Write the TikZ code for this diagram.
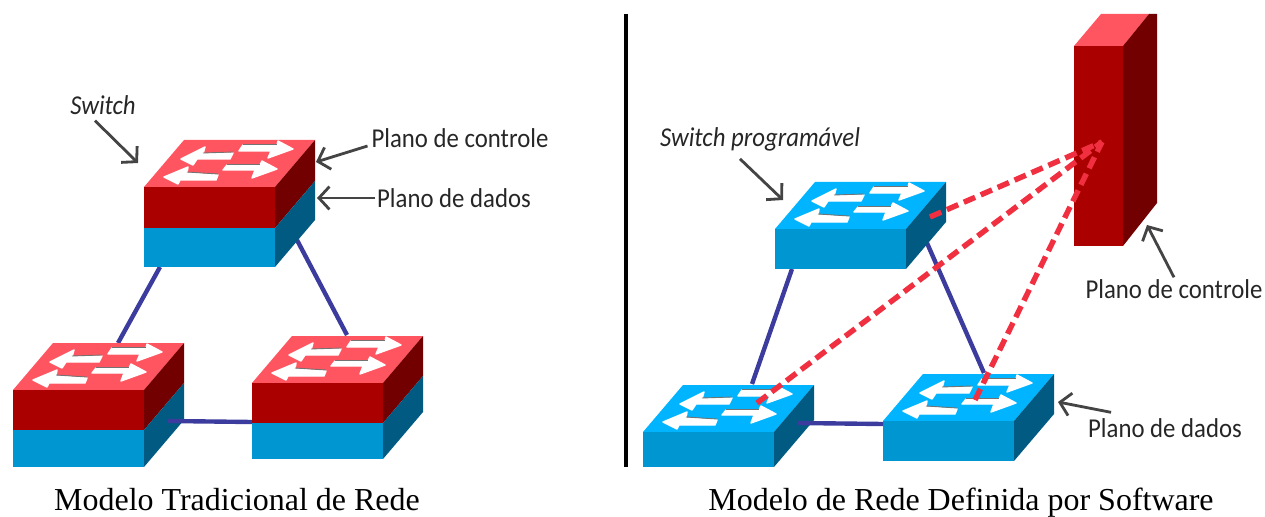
\documentclass[tikz,border=0pt]{standalone}
\usepackage{fontspec}
\setmainfont{Liberation Serif}
\newfontfamily\labelfont[FakeStretch=0.91]{Carlito}
\usetikzlibrary{arrows.meta}

\definecolor{redtop}{HTML}{FF5560}
\definecolor{redfront}{HTML}{AA0000}
\definecolor{redside}{HTML}{730000}
\definecolor{bluetop}{HTML}{00B4FF}
\definecolor{bluefront}{HTML}{0096D2}
\definecolor{blueside}{HTML}{005A82}
\definecolor{linkblue}{HTML}{3C3C9E}
\definecolor{dashred}{HTML}{F03040}
\definecolor{calloutgray}{HTML}{444444}

% front face and side face of one layer: x, y, height, front colour, side colour
\newcommand{\swlayer}[5]{
  \fill[#4] (#1,#2) rectangle ++(131,#3);
  \fill[#5] (#1+131,#2) -- ++(40,-47) -- ++(0,#3) -- ++(-40,47) -- cycle;
}
% top face with its four arrows: x, y, colour
\newcommand{\swtop}[3]{
  \fill[#3] (#1,#2) -- ++(40,-47) -- ++(131,0) -- ++(-40,47) -- cycle;
  \begin{scope}[shift={(#1,#2)}]
    \fill[swarrow] (37,-28) -- (61,-40) -- (59,-33) -- (89,-34) -- (86,-28) -- (53,-28) -- (49,-22) -- cycle;
    \fill[swarrow] (149,-38) -- (134,-46) -- (133,-42) -- (99,-42) -- (95,-36) -- (127,-36) -- (124,-29) -- cycle;
    \fill[swarrow] (20,-10) -- (44,-20) -- (43,-14) -- (74,-12) -- (72,-7) -- (36,-7) -- (34,-3) -- cycle;
    \fill[swarrow] (133,-18) -- (118,-26) -- (116,-22) -- (83,-22) -- (79,-17) -- (111,-17) -- (108,-9) -- cycle;
    \draw[swedge] (59,-34) -- (89,-35);
    \draw[swedge] (133,-43) -- (99,-43);
    \draw[swedge] (43,-15) -- (74,-13);
    \draw[swedge] (116,-23) -- (83,-23);
  \end{scope}
}

\begin{document}
\begin{tikzpicture}[
    x=0.02cm,y=-0.02cm,
    swarrow/.style={white,draw=white,line width=0.8pt,line join=round},
    swedge/.style={black!55,line width=0.5pt},
    link/.style={linkblue,line width=2.5pt},
    control/.style={dashred,line width=3.1pt,dash pattern=on 7pt off 3.5pt},
    callout/.style={calloutgray,line width=1.6pt,-{Straight Barb[length=6pt,width=13pt]}},
    label/.style={font=\labelfont\fontsize{15.5}{18}\selectfont,text=black!85,inner sep=1pt},
    italiclabel/.style={label,font=\labelfont\itshape\fontsize{15.5}{18}\selectfont},
    caption/.style={font=\fontsize{18.2}{20}\selectfont,inner sep=0pt,anchor=base}
]
\useasboundingbox (0,0) rectangle (1265,517);

% Link ends, left side
\coordinate (TA) at (160,267);
\coordinate (LA) at (118,343);
\coordinate (TB) at (297,240);
\coordinate (RB) at (347,335);
\coordinate (LC) at (168,421);
\coordinate (RC) at (252,422);

% Link ends, right side
\coordinate (PTA) at (792,269);
\coordinate (PLA) at (752,384);
\coordinate (PTB) at (927,243);
\coordinate (PRB) at (984,373);
\coordinate (PLC) at (798,423);
\coordinate (PRC) at (883,424);

% Links under the switches
\draw[link] (TA) -- (LA);
\draw[link] (TB) -- (RB);
\draw[link] (PTA) -- (PLA);
\draw[link] (PTB) -- (PRB);

% Traditional switches
\swtop{144}{187}{redtop}
\swlayer{144}{187}{41}{redfront}{redside}
\swlayer{144}{228}{39}{bluefront}{blueside}

\swtop{13}{390}{redtop}
\swlayer{13}{390}{40}{redfront}{redside}
\swlayer{13}{430}{37}{bluefront}{blueside}

\swtop{252}{383}{redtop}
\swlayer{252}{383}{40}{redfront}{redside}
\swlayer{252}{423}{36}{bluefront}{blueside}

% Programmable switches
\swtop{775}{229}{bluetop}
\swlayer{775}{229}{40}{bluefront}{blueside}

\swtop{643}{432}{bluetop}
\swlayer{643}{432}{35}{bluefront}{blueside}

\swtop{883}{421}{bluetop}
\swlayer{883}{421}{40}{bluefront}{blueside}

% Links over the side faces
\draw[link] (LC) -- (RC);
\draw[link] (PLC) -- (PRC);

% Controller
\fill[redtop] (1074,46) -- (1101,14) -- (1149,14) -- (1123,46) -- cycle;
\fill[redfront] (1074,46) rectangle (1123,246);
\fill[redside] (1123,46) -- (1149,14) -- (1157,14) -- (1157,203) -- (1123,246) -- cycle;

% Separator
\coordinate (SA) at (626,14);
\coordinate (SB) at (626,467);
\draw[line width=2pt] (SA) -- (SB);

% Control channels
\coordinate (CP) at (1102,142);
\coordinate (PA) at (930,217);
\coordinate (PB) at (757,403);
\coordinate (PC) at (975,400);
\draw[control] (PA) -- (CP);
\draw[control] (PB) -- (CP);
\draw[control] (PC) -- (CP);

% Labels
\node[italiclabel] (SW) at (103,105) {Switch};
\node[label] (CT) at (460,138) {Plano de controle};
\node[label] (DT) at (454,198) {Plano de dados};
\node[italiclabel] (SP) at (760,139) {Switch programável};
\node[label] (CS) at (1174,289) {Plano de controle};
\node[label] (DS) at (1165,428) {Plano de dados};

% Arrow tips
\coordinate (SWt) at (138,163);
\coordinate (CTt) at (316,162);
\coordinate (DTt) at (317,198);
\coordinate (SPt) at (783,200);
\coordinate (CSt) at (1147,225);
\coordinate (DSt) at (1058,402);

\draw[callout] ([shift={(-8,4)}]SW.south) -- (SWt);
\draw[callout] ([shift={(-2,8)}]CT.west) -- (CTt);
\draw[callout] (DT.west) -- (DTt);
\draw[callout] ([shift={(-20,6)}]SP.south) -- (SPt);
\draw[callout] (CS.north) -- (CSt);
\draw[callout] ([shift={(25,-4)}]DS.north west) -- (DSt);

% Captions
\node[caption] (MT) at (237,510) {Modelo Tradicional de Rede};
\node[caption] (MS) at (961,510) {Modelo de Rede Definida por Software};

\end{tikzpicture}
\end{document}
